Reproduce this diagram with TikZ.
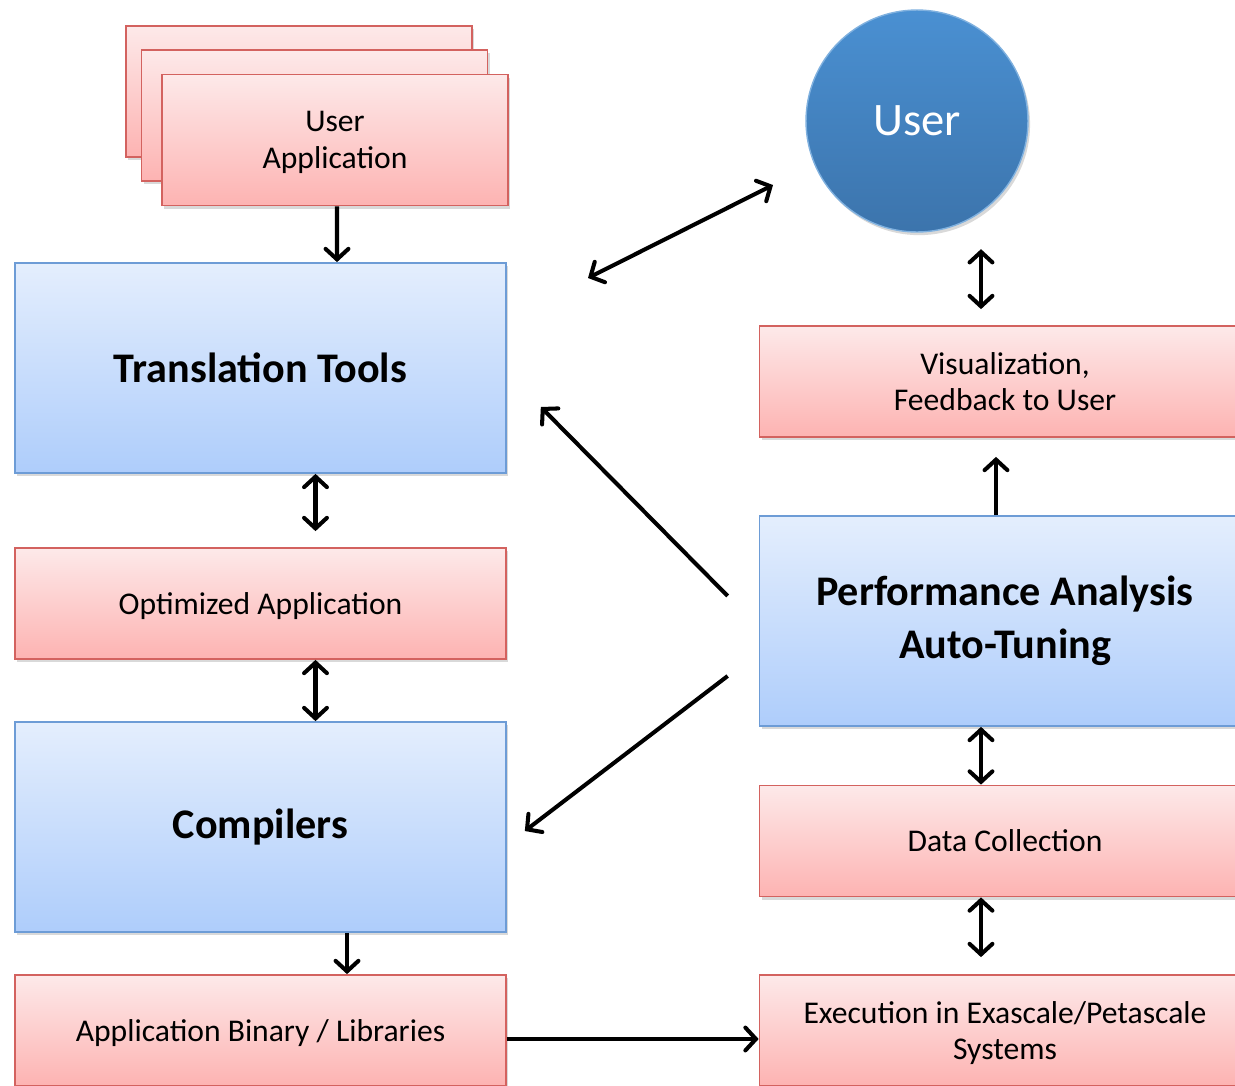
\documentclass[tikz,border=0pt]{standalone}
\usepackage{fontspec}
\setmainfont{Carlito}
\usepackage{tikz}
\usetikzlibrary{arrows.meta, calc, shadows}
\definecolor{redtop}{HTML}{FDE9E9}
\definecolor{redbot}{HTML}{FDB3B2}
\definecolor{redline}{HTML}{D3625F}
\definecolor{bluetop}{HTML}{E4EEFD}
\definecolor{bluebot}{HTML}{AECDFB}
\definecolor{blueline}{HTML}{6D9CD6}
\definecolor{usertop}{HTML}{4A90D2}
\definecolor{userbot}{HTML}{3C74AC}
\tikzset{
  redbox/.style={draw=redline, line width=1pt, top color=redtop, bottom color=redbot,
    minimum width=9.82cm, minimum height=2.22cm, align=center, text depth=0pt,
    font=\fontsize{18}{21}\selectfont,
    drop shadow={opacity=0.3, shadow xshift=1.2pt, shadow yshift=-1.8pt}},
  bluebox/.style={draw=blueline, line width=1pt, top color=bluetop, bottom color=bluebot,
    minimum width=9.82cm, minimum height=4.2cm, align=center,
    font=\fontsize{24}{30}\selectfont\bfseries,
    drop shadow={opacity=0.3, shadow xshift=1.2pt, shadow yshift=-1.8pt}},
  appbox/.style={redbox, minimum width=6.92cm, minimum height=2.62cm},
  arr/.style={line width=2.3pt, >={Straight Barb[length=6pt, width=13pt, line cap=round]}}
}

\begin{document}
\begin{tikzpicture}[x=0.02cm, y=-0.02cm]
      \useasboundingbox (0,0) rectangle (1235,1086);

      % Stack of user applications
      \node[appbox] (ua3) at (299,91.5) {};
      \node[appbox] (ua2) at (314.5,115.5) {};
      \node[appbox] (ua) at (335,140) {User\\Application};

      % Left column
      \node[bluebox] (tt) at (260.5,368) {Translation Tools};
      \node[redbox] (oa) at (260.5,603.5) {Optimized Application};
      \node[bluebox] (cc) at (260.5,827) {Compilers};
      \node[redbox] (bin) at (260.5,1030.5) {Application Binary / Libraries};

      % User circle
      \node[circle, draw=usertop!70!white, line width=0.8pt, top color=usertop, bottom color=userbot,
            minimum size=4.44cm, text=white, text depth=0pt, font=\fontsize{26.5}{30}\selectfont,
            drop shadow={opacity=0.3, shadow xshift=1.2pt, shadow yshift=-1.8pt}] (user) at (917,121) {User};

      % Right column (cut off at the right edge)
      \node[redbox] (vis) at (1005,381.5) {Visualization,\\Feedback to User};
      \node[bluebox] (pa) at (1005,621) {Performance Analysis\\Auto-Tuning};
      \node[redbox] (dc) at (1005,841) {Data Collection};
      \node[redbox] (exec) at (1005,1030.5) {Execution in Exascale/Petascale\\Systems};

      % Free ends of the user arrow
      \coordinate (ut1) at (588,278);
      \coordinate (ut2) at (773,185);

      % Arrows
      \draw[arr, ->] ($(ua.south)+(2,0)$) -- ($(tt.north)+(76.5,0)$);
      \draw[arr, <->] ($(tt.south)+(55,0)$) -- ($(oa.north)+(55,-16)$);
      \draw[arr, <->] ($(oa.south)+(55,0)$) -- ($(cc.north)+(55,0)$);
      \draw[arr, ->] ($(cc.south)+(86.5,0)$) -- ($(bin.north)+(86.5,0)$);
      \draw[arr, ->] ($(bin.east)+(0,8.5)$) -- ($(exec.west)+(0,8.5)$);
      \draw[arr, <->] (ut1) -- (ut2);
      \draw[arr, <->] ($(vis.north)+(-24,-16)$) -- ($(vis.north)+(-24,-76)$);
      \draw[arr, ->] ($(pa.north)+(-9,0)$) -- ($(vis.south)+(-9,19)$);
      \draw[arr, ->] ($(pa.west)+(-31,-25)$) -- ($(tt.east)+(34,39)$);
      \draw[arr, ->] ($(pa.west)+(-31,55)$) -- ($(cc.east)+(18,4)$);
      \draw[arr, <->] ($(pa.south)+(-24,0)$) -- ($(dc.north)+(-24,0)$);
      \draw[arr, <->] ($(dc.south)+(-24,0)$) -- ($(exec.north)+(-24,-17)$);
    \end{tikzpicture}
\end{document}
